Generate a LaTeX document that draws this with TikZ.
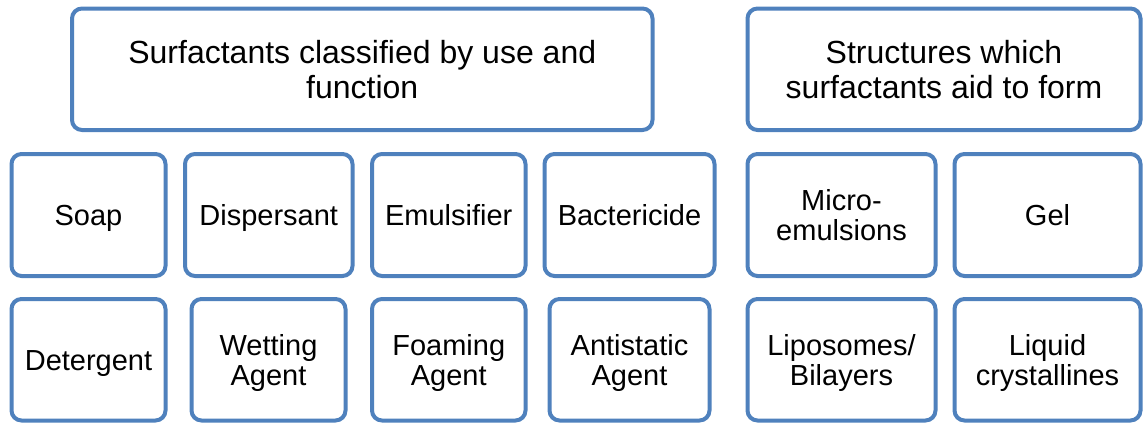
\documentclass[tikz,border=0pt]{standalone}
\usepackage{fontspec}
\setmainfont{Liberation Sans}
\definecolor{boxblue}{RGB}{79,129,189}
\begin{document}
\begin{tikzpicture}[x=1pt,y=-1pt,
    cell/.style={draw=boxblue, line width=4pt, rounded corners=10pt, fill=white,
      align=center, inner sep=0pt, font=\fontsize{29}{30}\selectfont,
      text height=21pt, text depth=0pt},
    twoline/.style={text height=51pt},
    head/.style={cell, minimum height=121.5pt, font=\fontsize{32}{35}\selectfont,
      text height=58pt},
    rowa/.style={cell, minimum height=122pt},
    rowb/.style={cell, minimum height=121.5pt}]
  \useasboundingbox (0,0) rectangle (1144,423);
  % headings
  \path
    (362.25,69.25) node[head, minimum width=580.5pt] (use){Surfactants classified by use and\\function}
    (944,69.25) node[head, minimum width=393pt] (struct){Structures which\\surfactants aid to form};
  % uses and functions
  \path
    (88.5,215) node[rowa, minimum width=154pt] (soap){Soap}
    (268.75,215) node[rowa, minimum width=167.5pt] (disp){Dispersant}
    (448.75,215) node[rowa, minimum width=153.5pt] (emul){Emulsifier}
    (629.5,215) node[rowa, minimum width=170pt] (bact){Bactericide}
    (88.5,359.75) node[rowb, minimum width=154pt] (deterg){Detergent}
    (268.5,359.75) node[rowb, twoline, minimum width=154pt] (wett){Wetting\\Agent}
    (448.75,359.75) node[rowb, twoline, minimum width=153.5pt] (foam){Foaming\\Agent}
    (629.5,359.75) node[rowb, twoline, minimum width=160pt] (anti){Antistatic\\Agent};
  % structures
  \path
    (841.5,215) node[rowa, twoline, minimum width=188pt] (micro){Micro-\\emulsions}
    (1047.5,215) node[rowa, minimum width=186pt] (gel){Gel}
    (841.5,359.75) node[rowb, twoline, minimum width=188pt] (lipo){Liposomes/\\Bilayers}
    (1047.5,359.75) node[rowb, twoline, minimum width=186pt] (liq){Liquid\\crystallines};
\end{tikzpicture}
\end{document}
